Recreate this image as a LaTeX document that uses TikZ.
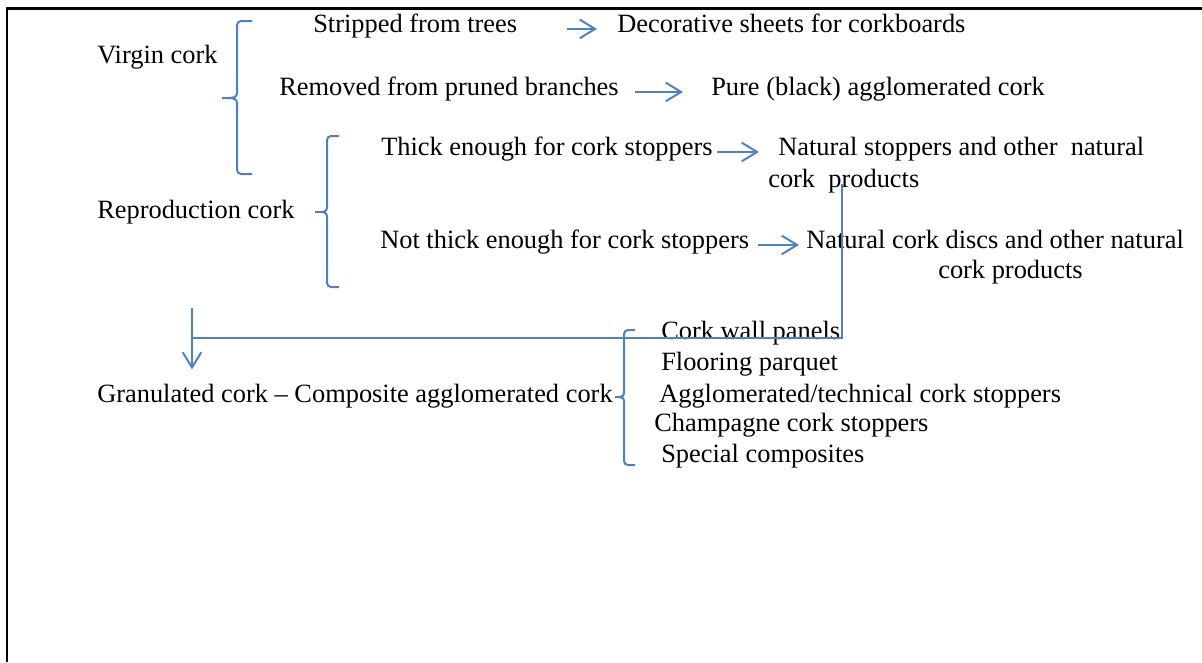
\documentclass[tikz,border=0pt]{standalone}
\usepackage{fontspec}
\setmainfont{Liberation Serif}
\usetikzlibrary{arrows.meta}

\begin{document}
\begin{tikzpicture}[x=0.75pt,y=0.75pt,yscale=-1,xscale=1,
  font=\fontsize{19.8}{24}\selectfont,
  flow/.style={color={rgb, 255:red, 79; green, 129; blue, 189 }, line width=1.5pt},
  flowarrow/.style={flow, -{Straight Barb[length=11.5pt,width=14pt]}},
  corktext/.style={anchor=base west, inner sep=0pt}]
\useasboundingbox (0,0) rectangle (1202,662);

%Straight Lines [frame]
\draw [line width=1.6pt]  (7,662) -- (7,8.5) -- (1202,8.5) ;

%Shape: Brace [virgin]
\draw [flow]  (252,21) -- (241,21) .. controls (238.79,21) and (237,22.79) .. (237,25) -- (237,93) .. controls (237,96.5) and (234,98) .. (229,98) -- (222,98) -- (229,98) .. controls (234,98) and (237,99.5) .. (237,103) -- (237,170) .. controls (237,172.21) and (238.79,174) .. (241,174) -- (252,174) ;
%Shape: Brace [reproduction]
\draw [flow]  (339,136) -- (331,136) .. controls (328.79,136) and (327,137.79) .. (327,140) -- (327,207) .. controls (327,210.5) and (325,212) .. (321,212) -- (315,212) -- (321,212) .. controls (325,212) and (327,213.5) .. (327,217) -- (327,283) .. controls (327,285.21) and (328.79,287) .. (331,287) -- (339,287) ;
%Shape: Brace [granulated]
\draw [flow]  (635,330) -- (628,330) .. controls (625.79,330) and (624,331.79) .. (624,334) -- (624,392) .. controls (624,395.5) and (622.5,397) .. (619.5,397) -- (615,397) -- (619.5,397) .. controls (622.5,397) and (624,398.5) .. (624,402) -- (624,461) .. controls (624,463.21) and (625.79,465) .. (628,465) -- (635,465) ;

% Text Node
\draw (97,63) node [corktext] (virgin) {Virgin cork};
% Text Node
\draw (313,32) node [corktext] (strip) {Stripped from trees};
% Text Node
\draw (617,32) node [corktext] (deco) {Decorative sheets for corkboards};
% Text Node
\draw (279,95) node [corktext] (pruned) {Removed from pruned branches};
% Text Node
\draw (711,95) node [corktext] (pure) {Pure (black) agglomerated cork};
% Text Node
\draw (97,218) node [corktext] (repro) {Reproduction cork};
% Text Node
\draw (381,155) node [corktext] (thick) {Thick enough for cork stoppers};
% Text Node
\draw (778,155) node [corktext] (natstop) {Natural stoppers and other\ \ natural};
% Text Node
\draw (768,187) node [corktext] (prodone) {cork\ \ products};
% Text Node
\draw (380,248) node [corktext] (notthick) {Not thick enough for cork stoppers};
% Text Node
\draw (806,248) node [corktext] (natdisc) {Natural cork discs and other natural};
% Text Node
\draw (938,278) node [corktext] (prodtwo) {cork products};
% Text Node
\draw (97,402) node [corktext] (gran) {Granulated cork -- Composite agglomerated cork};
% Text Node
\draw (661,339) node [corktext] (wall) {Cork wall panels};
% Text Node
\draw (661,370) node [corktext] (floor) {Flooring parquet};
% Text Node
\draw (659,402) node [corktext] (aggl) {Agglomerated/technical cork stoppers};
% Text Node
\draw (654,431) node [corktext] (champ) {Champagne cork stoppers};
% Text Node
\draw (661,462) node [corktext] (special) {Special composites};

%Straight Lines [arrows]
\draw [flowarrow, shorten <=37.5pt, shorten >=15pt]  (strip.mid east) -- (deco.mid west) ;
\draw [flowarrow, shorten <=12pt, shorten >=21pt]  (pruned.mid east) -- (pure.mid west) ;
\draw [flowarrow, shorten <=3pt, shorten >=14.25pt]  (thick.mid east) -- (natstop.mid west) ;
\draw [flowarrow, shorten <=6.75pt, shorten >=5.25pt]  (notthick.mid east) -- (natdisc.mid west) ;

%Straight Lines [return to granulated cork]
\coordinate (bend) at (842,338);
\coordinate (join) at (192,338);
\coordinate (drop) at (192,308);
\draw [flow]  (prodone.mid -| bend) -- (bend) -- (join) ;
\draw [flowarrow, shorten >=10.5pt]  (drop) -- (drop |- gran.north) ;

\end{tikzpicture}
\end{document}
